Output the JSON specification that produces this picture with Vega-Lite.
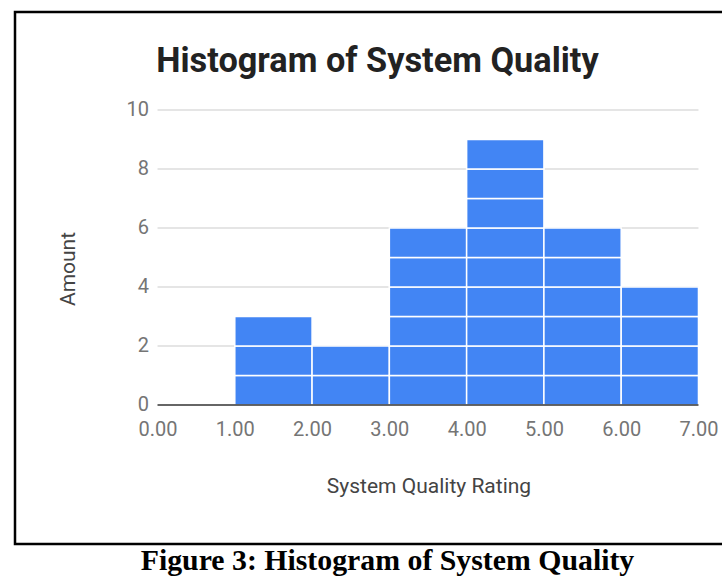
{
  "$schema": "https://vega.github.io/schema/vega-lite/v6.json",
  "padding": {"left": 13, "top": 10, "right": 0, "bottom": 0},
  "background": "white",
  "spacing": 0,
  "config": {"view": {"stroke": "#000000", "strokeWidth": 2.5}, "font": "Roboto"},
  "vconcat": [
    {
      "width": 745,
      "height": 532,
      "title": {"text": "Histogram of System Quality", "font": "Roboto", "fontSize": 34.3, "fontWeight": "bold", "color": "#222222", "anchor": "middle", "baseline": "alphabetic", "offset": 0, "dy": 94, "dx": -10},
      "layer": [
        {
          "data": {"values": [{"v": 2}, {"v": 4}, {"v": 6}, {"v": 8}, {"v": 10}]},
          "mark": {"type": "rule", "color": "#cccccc", "strokeWidth": 1.2},
          "encoding": {
            "x": {"datum": 0, "type": "quantitative",
              "scale": {"domain": [-1.844, 7.796], "nice": false, "zero": false},
              "axis": {"orient": "bottom", "offset": -139, "values": [0, 1, 2, 3, 4, 5, 6, 7], "format": ".2f", "domain": false, "ticks": false, "grid": false, "labelFlush": false, "labelFont": "Roboto", "labelFontSize": 20, "labelColor": "#757575", "labelPadding": 14, "title": "System Quality Rating", "titleFont": "Roboto", "titleFontSize": 21, "titleFontWeight": "normal", "titleColor": "#444444", "titlePadding": 36, "titleX": 413.5}},
            "x2": {"datum": 7},
            "y": {"field": "v", "type": "quantitative",
              "scale": {"domain": [-4.712, 13.322], "nice": false, "zero": false},
              "axis": {"orient": "left", "offset": -142.5, "values": [0, 2, 4, 6, 8, 10], "format": "d", "domain": false, "ticks": false, "grid": false, "labelFont": "Roboto", "labelFontSize": 20, "labelColor": "#757575", "labelPadding": 9, "title": "Amount", "titleFont": "Roboto", "titleFontSize": 21, "titleFontWeight": "normal", "titleColor": "#444444", "titlePadding": 48, "titleY": 256.5}}
          }
        },
        {
          "data": {"values": [
            {"id": 1, "bin_start": 1, "bin_end": 2, "count": 1},
            {"id": 2, "bin_start": 1, "bin_end": 2, "count": 1},
            {"id": 3, "bin_start": 1, "bin_end": 2, "count": 1},
            {"id": 4, "bin_start": 2, "bin_end": 3, "count": 1},
            {"id": 5, "bin_start": 2, "bin_end": 3, "count": 1},
            {"id": 6, "bin_start": 3, "bin_end": 4, "count": 1},
            {"id": 7, "bin_start": 3, "bin_end": 4, "count": 1},
            {"id": 8, "bin_start": 3, "bin_end": 4, "count": 1},
            {"id": 9, "bin_start": 3, "bin_end": 4, "count": 1},
            {"id": 10, "bin_start": 3, "bin_end": 4, "count": 1},
            {"id": 11, "bin_start": 3, "bin_end": 4, "count": 1},
            {"id": 12, "bin_start": 4, "bin_end": 5, "count": 1},
            {"id": 13, "bin_start": 4, "bin_end": 5, "count": 1},
            {"id": 14, "bin_start": 4, "bin_end": 5, "count": 1},
            {"id": 15, "bin_start": 4, "bin_end": 5, "count": 1},
            {"id": 16, "bin_start": 4, "bin_end": 5, "count": 1},
            {"id": 17, "bin_start": 4, "bin_end": 5, "count": 1},
            {"id": 18, "bin_start": 4, "bin_end": 5, "count": 1},
            {"id": 19, "bin_start": 4, "bin_end": 5, "count": 1},
            {"id": 20, "bin_start": 4, "bin_end": 5, "count": 1},
            {"id": 21, "bin_start": 5, "bin_end": 6, "count": 1},
            {"id": 22, "bin_start": 5, "bin_end": 6, "count": 1},
            {"id": 23, "bin_start": 5, "bin_end": 6, "count": 1},
            {"id": 24, "bin_start": 5, "bin_end": 6, "count": 1},
            {"id": 25, "bin_start": 5, "bin_end": 6, "count": 1},
            {"id": 26, "bin_start": 5, "bin_end": 6, "count": 1},
            {"id": 27, "bin_start": 6, "bin_end": 7, "count": 1},
            {"id": 28, "bin_start": 6, "bin_end": 7, "count": 1},
            {"id": 29, "bin_start": 6, "bin_end": 7, "count": 1},
            {"id": 30, "bin_start": 6, "bin_end": 7, "count": 1}
          ]},
          "transform": [
            {"stack": "count", "groupby": ["bin_start"], "sort": [{"field": "id", "order": "ascending"}], "as": ["y_lo", "y_hi"]}
          ],
          "mark": {"type": "bar", "color": "#4285F4", "stroke": "#ffffff", "strokeWidth": 1.5},
          "encoding": {
            "x": {"field": "bin_start", "type": "quantitative"},
            "x2": {"field": "bin_end"},
            "y": {"field": "y_hi", "type": "quantitative"},
            "y2": {"field": "y_lo"}
          }
        },
        {
          "data": {"values": [{"v": 0}]},
          "mark": {"type": "rule", "color": "#333333", "strokeWidth": 1.5},
          "encoding": {
            "x": {"datum": 0, "type": "quantitative"},
            "x2": {"datum": 7},
            "y": {"field": "v", "type": "quantitative"}
          }
        }
      ]
    },
    {
      "width": 745,
      "height": 80,
      "data": {"values": [{"caption": "Figure 3: Histogram of System Quality"}]},
      "mark": {"type": "text", "font": "Liberation Serif", "fontSize": 29.8, "fontWeight": "bold", "color": "#000000", "baseline": "alphabetic", "dy": -18},
      "encoding": {"text": {"field": "caption", "type": "nominal"}}
    }
  ]
}
